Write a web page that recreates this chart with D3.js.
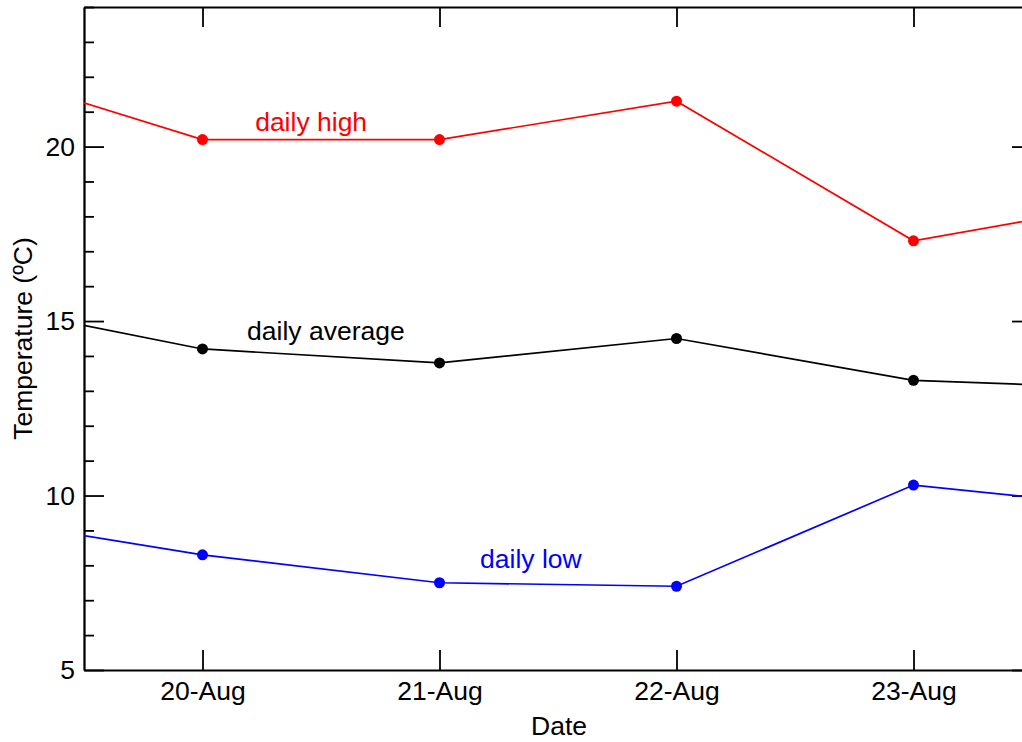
<!DOCTYPE html>
<html>
<head>
<meta charset="utf-8">
<script src="https://d3js.org/d3.v7.min.js"></script>
<style>
  body { margin: 0; background: #fff; }
  text { font-family: "Liberation Sans", Arial, Helvetica, sans-serif; }
</style>
</head>
<body>
<div id="container"></div>
<script>
// daily temperatures, one value per day (first and last day fall outside the view)
var days = ["2013-08-19", "2013-08-20", "2013-08-21", "2013-08-22", "2013-08-23", "2013-08-24"];
var dailyHigh = [22.3, 20.2, 20.2, 21.3, 17.3, 18.5];
var dailyAverage = [15.55, 14.2, 13.8, 14.5, 13.3, 13.05];
var dailyLow = [9.4, 8.3, 7.5, 7.4, 10.3, 9.6];

// labels next to the lines: name, date, value
var labelNames = ["daily high", "daily average", "daily low"];
var labelDates = ["2013-08-20T11:00", "2013-08-20T12:30", "2013-08-21T09:15"];
var labelValues = [20.45, 14.45, 7.93];

var xDomain = ["2013-08-19T12:00", "2013-08-23T12:00"];
var yDomain = [5, 24];
var yMajor = [5, 10, 15, 20];

var width = 1022, height = 742;
var plotLeft = 84, plotRight = 1032, plotTop = 7, plotBottom = 670;
var fontSize = "26.5px";

var parse = d3.utcParse("%Y-%m-%d");
var parseT = d3.utcParse("%Y-%m-%dT%H:%M");

var x = d3.scaleUtc()
  .domain(xDomain.map(parseT))
  .range([plotLeft, plotRight]);
var y = d3.scaleLinear()
  .domain(yDomain)
  .range([plotBottom, plotTop]);

var svg = d3.select("#container").append("svg")
  .attr("width", width)
  .attr("height", height);

svg.append("defs").append("clipPath").attr("id", "plotclip")
  .append("rect")
  .attr("x", plotLeft).attr("y", plotTop)
  .attr("width", plotRight - plotLeft).attr("height", plotBottom - plotTop);

// ticks for the dates, every day
var xTicks = d3.utcDay.range(parse("2013-08-20"), parse("2013-08-24"));
var yMinor = d3.range(yDomain[0], yDomain[1] + 1).filter(function(d){ return yMajor.indexOf(d) < 0; });

var tickFmt = d3.utcFormat("%d-%b");

// bottom axis
svg.append("g")
  .attr("transform", "translate(0," + plotBottom + ")")
  .call(d3.axisBottom(x).tickValues(xTicks).tickFormat(tickFmt).tickSizeInner(-20).tickSizeOuter(0).tickPadding(11));
// top axis, ticks only
svg.append("g")
  .attr("transform", "translate(0," + plotTop + ")")
  .call(d3.axisTop(x).tickValues(xTicks).tickFormat("").tickSizeInner(-20).tickSizeOuter(0));
// left axis, major and minor
svg.append("g")
  .attr("transform", "translate(" + plotLeft + ",0)")
  .call(d3.axisLeft(y).tickValues(yMajor).tickSizeInner(-20).tickSizeOuter(0).tickPadding(9));
svg.append("g")
  .attr("transform", "translate(" + plotLeft + ",0)")
  .call(d3.axisLeft(y).tickValues(yMinor).tickFormat("").tickSizeInner(-10).tickSizeOuter(0));
// right axis
svg.append("g")
  .attr("transform", "translate(" + plotRight + ",0)")
  .call(d3.axisRight(y).tickValues(yMajor).tickFormat("").tickSizeInner(-20).tickSizeOuter(0));
svg.append("g")
  .attr("transform", "translate(" + plotRight + ",0)")
  .call(d3.axisRight(y).tickValues(yMinor).tickFormat("").tickSizeInner(-10).tickSizeOuter(0));

svg.selectAll(".domain").attr("stroke", "#000").attr("stroke-width", 1.8);
svg.selectAll(".tick line").attr("stroke", "#000").attr("stroke-width", 1.8);
svg.selectAll(".tick text").attr("fill", "#000").style("font-size", fontSize)
  .style("font-family", "'Liberation Sans', Arial, sans-serif");

// axis titles
svg.append("text")
  .attr("x", 559)
  .attr("y", 735)
  .attr("text-anchor", "middle")
  .style("font-size", fontSize)
  .text("Date");
svg.append("text")
  .attr("transform", "translate(32," + ((plotTop + plotBottom) / 2) + ") rotate(-90)")
  .attr("text-anchor", "middle")
  .style("font-size", fontSize)
  .text("Temperature (ºC)");

// the three series
var series = [
  { values: dailyHigh, color: "#ff0000" },
  { values: dailyAverage, color: "#000000" },
  { values: dailyLow, color: "#0000ff" }
];

var line = d3.line()
  .x(function(d){ return x(d[0]); })
  .y(function(d){ return y(d[1]); });

var plot = svg.append("g").attr("clip-path", "url(#plotclip)");

series.forEach(function(s){
  var pts = days.map(function(d, i){ return [parse(d), s.values[i]]; });
  plot.append("path")
    .datum(pts)
    .attr("fill", "none")
    .attr("stroke", s.color)
    .attr("stroke-width", 1.7)
    .attr("d", line);
  plot.selectAll(null)
    .data(pts)
    .enter().append("circle")
    .attr("cx", function(d){ return x(d[0]); })
    .attr("cy", function(d){ return y(d[1]); })
    .attr("r", 5.5)
    .attr("fill", s.color);
});

// labels for the lines
svg.selectAll(".serieslabel")
  .data(labelNames)
  .enter().append("text")
  .attr("class", "serieslabel")
  .attr("x", function(d, i){ return x(parseT(labelDates[i])); })
  .attr("y", function(d, i){ return y(labelValues[i]); })
  .attr("text-anchor", "middle")
  .style("font-size", fontSize)
  .attr("fill", function(d, i){ return series[i].color; })
  .text(function(d){ return d; });
</script>
</body>
</html>
